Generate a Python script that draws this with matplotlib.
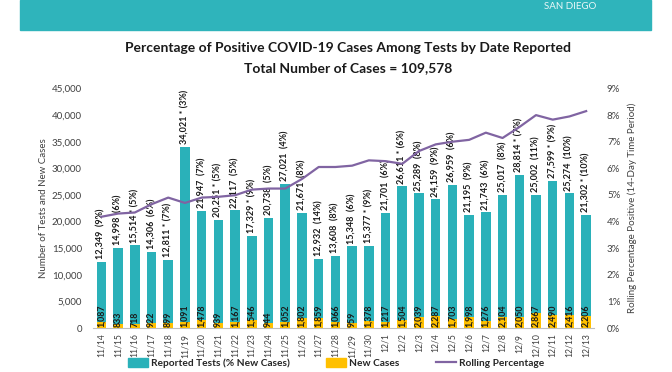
import numpy as np
import matplotlib.pyplot as plt
from matplotlib.patches import Patch, Rectangle
from matplotlib.lines import Line2D

plt.rcParams['font.family'] = ['Lato', 'DejaVu Sans']

fechas = ['11/14', '11/15', '11/16', '11/17', '11/18', '11/19', '11/20', '11/21',
          '11/22', '11/23', '11/24', '11/25', '11/26', '11/27', '11/28', '11/29',
          '11/30', '12/1', '12/2', '12/3', '12/4', '12/5', '12/6', '12/7',
          '12/8', '12/9', '12/10', '12/11', '12/12', '12/13']

tests = [12349, 14998, 15514, 14306, 12811, 34021, 21947, 20251, 22117, 17329,
         20738, 27021, 21671, 12932, 13608, 15348, 15377, 21701, 26611, 25289,
         24159, 26959, 21195, 21743, 25017, 28814, 25002, 27599, 25274, 21302]

nuevos = [1087, 833, 718, 922, 899, 1091, 1478, 939, 1167, 1546,
          944, 1052, 1802, 1859, 1066, 959, 1378, 1217, 1504, 2039,
          2287, 1703, 1998, 1276, 2104, 2050, 2867, 2490, 2416, 2206]

pct_nuevos = [9, 6, 5, 6, 7, 3, 7, 5, 5, 9, 5, 4, 8, 14, 8, 6, 9, 6, 6, 8,
              9, 6, 9, 6, 8, 7, 11, 9, 10, 10]

# dias marcados con asterisco en la etiqueta
estrella = [0, 0, 1, 0, 1, 1, 0, 1, 0, 1, 0, 0, 0, 0, 0, 0, 1, 0, 1, 0,
            0, 0, 0, 0, 0, 1, 0, 1, 0, 1]

rolling = [4.18, 4.3, 4.34, 4.65, 4.9, 4.7, 4.9, 4.93, 4.99, 5.2,
           5.24, 5.24, 5.6, 6.05, 6.05, 6.1, 6.3, 6.27, 6.17, 6.65,
           6.9, 7.0, 7.07, 7.34, 7.14, 7.55, 8.0, 7.83, 7.95, 8.15]

teal = '#2ab1b9'
amarillo = '#ffc000'
morado = '#8064a2'
gris = '#404040'

fig = plt.figure(figsize=(6.72, 3.72), dpi=100)

# franja del encabezado (recortada en la imagen original)
fig.patches.append(Rectangle((20 / 672, 1 - 30 / 372), 631 / 672, 30 / 372,
                             transform=fig.transFigure, color='#2fb4bb', zorder=0))
fig.text(570 / 672, 1 - 2 / 372, 'SAN DIEGO', color='white', fontsize=7,
         ha='center', va='top', alpha=0.9)

fig.text(0.518, 0.871, 'Percentage of Positive COVID-19 Cases Among Tests by Date Reported',
         ha='center', va='center', fontsize=10, fontweight='bold', color='#1a1a1a')
fig.text(0.518, 0.817, 'Total Number of Cases = 109,578',
         ha='center', va='center', fontsize=10, fontweight='bold', color='#1a1a1a')

ax = fig.add_axes([93 / 672, 1 - 328 / 372, 501.5 / 672, 239.5 / 372])
x = np.arange(len(fechas))

ax.bar(x, tests, width=0.57, color=teal, zorder=2)
ax.bar(x, nuevos, width=0.57, color=amarillo, zorder=3)

for i in x:
    s = '*' if estrella[i] else ''
    etiqueta = '{:,} {} ({}%)'.format(tests[i], s, pct_nuevos[i])
    ax.annotate(etiqueta, (i, tests[i]), xytext=(0, 2), textcoords='offset points',
                rotation=90, ha='center', va='bottom', fontsize=6.5,
                fontweight='bold', color='#1a1a1a', zorder=4)
    ax.text(i, 250, '{:,}'.format(nuevos[i]), rotation=90, ha='center',
            va='bottom', fontsize=6.3, fontweight='bold', color='#1a1a1a', zorder=4)

ax.set_xlim(-0.5, len(fechas) - 0.5)
ax.set_ylim(0, 45000)
ax.set_yticks(np.arange(0, 45001, 5000))
ax.set_yticklabels(['{:,}'.format(v) for v in range(0, 45001, 5000)])
ax.set_xticks(x)
ax.set_xticklabels(fechas, rotation=90, fontsize=6.2, color=gris)
ax.tick_params(axis='x', length=0, pad=4)
ax.tick_params(axis='y', length=0, labelsize=7, labelcolor=gris, pad=8)
for sp in ('top', 'left', 'right'):
    ax.spines[sp].set_visible(False)
ax.spines['bottom'].set_color('#bfbfbf')
ax.set_ylabel('Number of Tests and New Cases', fontsize=7, color=gris, labelpad=3)

ax2 = ax.twinx()
ax2.plot(x, rolling, color=morado, linewidth=1.6, zorder=5)
ax2.set_ylim(0, 9)
ax2.set_yticks(range(0, 10))
ax2.set_yticklabels(['{}%'.format(v) for v in range(0, 10)])
ax2.tick_params(axis='y', length=0, labelsize=7, labelcolor=gris, pad=9)
for sp in ('top', 'left', 'right', 'bottom'):
    ax2.spines[sp].set_visible(False)
ax2.set_ylabel('Rolling Percentage Positive (14-Day Time Period)', fontsize=7,
               color=gris, labelpad=5)

handles = [Patch(color=teal), Patch(color=amarillo), Line2D([], [], color=morado, lw=1.6)]
nombres = ['Reported Tests (% New Cases)', 'New Cases', 'Rolling Percentage']
fig.legend(handles, nombres, loc='center', bbox_to_anchor=(0.5, 1 - 363 / 372),
           ncol=3, frameon=False, handlelength=2.0, handleheight=0.9,
           handletextpad=0.25, columnspacing=3.6,
           prop={'size': 7.3, 'weight': 'bold'}, labelcolor='#262626')

fig.savefig('out.png', dpi=100)
